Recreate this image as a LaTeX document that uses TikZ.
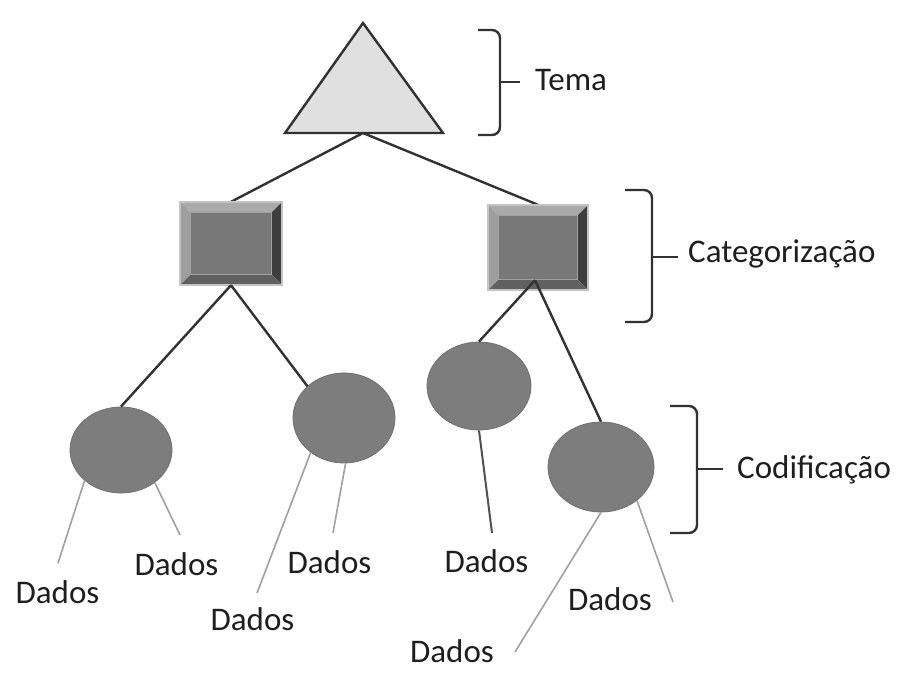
\documentclass[tikz,border=0pt]{standalone}
\usepackage{fontspec}
\setmainfont{Carlito}
\usetikzlibrary{calc,shapes.geometric}
\definecolor{lineDark}{RGB}{50,50,50}
\definecolor{lineLight}{RGB}{160,160,160}
\definecolor{ellFill}{RGB}{125,125,125}
\definecolor{ellEdge}{RGB}{112,112,112}
\definecolor{triFill}{RGB}{224,224,224}
\definecolor{bevOuter}{RGB}{196,196,196}
\definecolor{bevTop}{RGB}{170,170,170}
\definecolor{bevLeft}{RGB}{158,158,158}
\definecolor{bevRight}{RGB}{62,62,62}
\definecolor{bevBottom}{RGB}{96,96,96}
\definecolor{bevInner}{RGB}{120,120,120}
\definecolor{bevInnerEdge}{RGB}{160,160,160}
\definecolor{txt}{RGB}{30,30,30}
\newcommand\bevbox[2]{%
  \fill[bevTop] (#1.north west) -- (#1.north east) -- ($(#1.north east)+(-#2,#2)$) -- ($(#1.north west)+(#2,#2)$) -- cycle;
  \fill[bevLeft] (#1.north west) -- (#1.south west) -- ($(#1.south west)+(#2,-#2)$) -- ($(#1.north west)+(#2,#2)$) -- cycle;
  \fill[bevRight] (#1.north east) -- (#1.south east) -- ($(#1.south east)+(-#2,-#2)$) -- ($(#1.north east)+(-#2,#2)$) -- cycle;
  \fill[bevBottom] (#1.south west) -- (#1.south east) -- ($(#1.south east)+(-#2,-#2)$) -- ($(#1.south west)+(#2,-#2)$) -- cycle;
  \draw[bevOuter, line width=1.5pt] (#1.north west) rectangle (#1.south east);
  \filldraw[fill=bevInner, draw=bevInnerEdge, line width=1.2pt] ($(#1.north west)+(#2,#2)$) rectangle ($(#1.south east)+(-#2,-#2)$);
}
\begin{document}
\begin{tikzpicture}[x=1pt,y=-1pt,
  conn/.style={draw=lineDark, line width=2.4pt},
  datal/.style={draw=lineLight, line width=1.6pt},
  ell/.style={ellipse, fill=ellFill, draw=ellEdge, line width=0.8pt, inner sep=0},
  sq/.style={rectangle, inner sep=0, draw=none},
  lbl/.style={text=txt, font=\fontsize{33}{40}\selectfont, inner sep=0},
  brace/.style={draw=lineDark, line width=2.4pt, rounded corners=8pt}]
\useasboundingbox[fill=white] (0,0) rectangle (904,693);

% triangle (Tema)
\coordinate (tA) at (363,23);
\coordinate (tL) at (285,133);
\coordinate (tR) at (443,133);
\coordinate (tri) at (363,133);
\filldraw[fill=triFill, draw=lineDark, line width=2.4pt, line join=miter] (tA) -- (tL) -- (tR) -- cycle;

% squares (Categorizacao)
\node[sq, minimum width=102pt, minimum height=83pt] (sqL) at (231,243.5) {};
\node[sq, minimum width=100pt, minimum height=85pt] (sqR) at (538,247.5) {};

\draw[conn] (tri) -- (sqL.north);
\draw[conn] (tri) -- (sqR.north);

\bevbox{sqL}{11}
\bevbox{sqR}{11}
\coordinate (sqRb) at ($(sqR.south)+(-3,-10)$);

% ellipses (Codificacao)
\node[ell, minimum width=102pt, minimum height=86pt] (elA) at (121,450) {};
\node[ell, minimum width=102pt, minimum height=90pt] (elB) at (344,418) {};
\node[ell, minimum width=104pt, minimum height=88pt] (elC) at (479,386) {};
\node[ell, minimum width=106pt, minimum height=90pt] (elD) at (601,467) {};

\draw[conn] (sqL.south) -- (elA.north);
\draw[conn] (sqL.south) -- (elB.139);
\draw[conn] (sqRb) -- (elC.north);
\draw[conn] (sqRb) -- (elD.north);

% data labels
\node[lbl, anchor=base] (d1) at (57.5,603) {Dados};
\node[lbl, anchor=base] (d2) at (176.5,575) {Dados};
\node[lbl, anchor=base] (d3) at (252.5,630) {Dados};
\node[lbl, anchor=base] (d4) at (329.5,573) {Dados};
\node[lbl, anchor=base] (d5) at (486.5,572) {Dados};
\node[lbl, anchor=base] (d6) at (610,610) {Dados};
\node[lbl, anchor=base] (d7) at (452,662) {Dados};

\coordinate (e1) at (58,563);
\coordinate (e2) at (180,535);
\coordinate (e3) at (257,593);
\coordinate (e4) at (333,533);
\coordinate (e5) at (492,533);
\coordinate (e6) at (673,602);
\coordinate (e7) at (515,652);

\draw[datal] (elA.220) -- (e1);
\draw[datal] (elA.316) -- (e2);
\draw[datal] (elB.226) -- (e3);
\draw[datal] (elB.272) -- (e4);
\draw[conn, line width=2pt, draw=lineDark!85] (elC.south) -- (e5);
\draw[datal] (elD.317) -- (e6);
\draw[datal] (elD.south) -- (e7);

% braces
\draw[brace] (478,30) -- (500,30) -- (500,82);
\draw[brace] (500,82) -- (500,135) -- (478,135);
\coordinate (b1) at (500,82);
\coordinate (b1t) at (520,82);
\draw[conn] (b1) -- (b1t);
\node[lbl, anchor=base west] (tema) at (535,90) {Tema};

\draw[brace] (625,190) -- (652,190) -- (652,257);
\draw[brace] (652,257) -- (652,322) -- (625,322);
\coordinate (b2) at (652,257);
\coordinate (b2t) at (678,257);
\draw[conn] (b2) -- (b2t);
\node[lbl, anchor=base west] (cat) at (688,262) {Categorização};

\draw[brace] (670,406) -- (697,406) -- (697,469);
\draw[brace] (697,469) -- (697,533) -- (670,533);
\coordinate (b3) at (697,469);
\coordinate (b3t) at (723,469);
\draw[conn] (b3) -- (b3t);
\node[lbl, anchor=base west] (cod) at (737,478) {Codificação};
\end{tikzpicture}
\end{document}
